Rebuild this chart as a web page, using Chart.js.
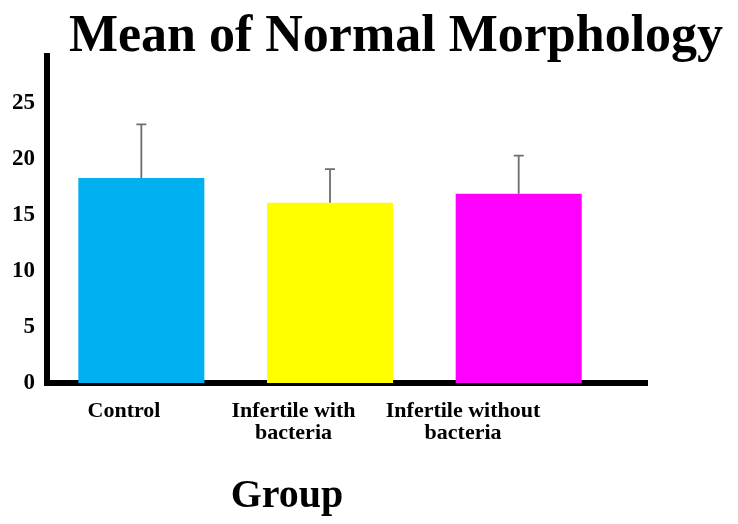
<!DOCTYPE html>
<html>
<head>
<meta charset="utf-8">
<script src="https://cdn.jsdelivr.net/npm/chart.js@4.4.0/dist/chart.umd.min.js"></script>
<style>
  html, body { margin: 0; padding: 0; background: #fff; }
  #wrap { width: 738px; height: 524px; }
</style>
</head>
<body>
<div id="wrap"><canvas id="morphChart" width="738" height="524"></canvas></div>
<script>
// data
const groups = [['Control'], ['Infertile with', 'bacteria'], ['Infertile without', 'bacteria']];
const meanValues = [18.3, 16.1, 16.9];
const sdValues = [4.8, 3.0, 3.4];
const barColors = ['#00B0F0', '#FFFF00', '#FF00FF'];
const yTicks = [0, 5, 10, 15, 20, 25];

const chartTitle = 'Mean of Normal Morphology';
const xTitle = 'Group';
const serif = "'Liberation Serif', 'Times New Roman', serif";

// upper error whiskers + titles
const extrasPlugin = {
  id: 'extras',
  afterDatasetsDraw(chart) {
    const { ctx, scales } = chart;
    const x = scales.x, y = scales.y;
    ctx.save();
    ctx.strokeStyle = '#6e6e6e';
    ctx.lineWidth = 1.8;
    meanValues.forEach((m, i) => {
      const px = x.getPixelForValue(i);
      const top = y.getPixelForValue(m + sdValues[i]);
      const base = y.getPixelForValue(m);
      ctx.beginPath();
      ctx.moveTo(px, base);
      ctx.lineTo(px, top);
      ctx.moveTo(px - 5, top);
      ctx.lineTo(px + 5, top);
      ctx.stroke();
    });
    ctx.restore();
  },
  afterDraw(chart) {
    const { ctx } = chart;
    ctx.save();
    ctx.fillStyle = '#000';
    ctx.textAlign = 'center';
    ctx.textBaseline = 'alphabetic';
    ctx.font = 'bold 52px ' + serif;
    ctx.fillText(chartTitle, 396, 51);
    ctx.font = 'bold 40px ' + serif;
    ctx.fillText(xTitle, 287, 507);
    ctx.restore();
  }
};

new Chart(document.getElementById('morphChart'), {
  type: 'bar',
  data: {
    datasets: [{
      data: meanValues.map((v, i) => ({ x: i, y: v })),
      backgroundColor: barColors,
      borderWidth: 0,
      barPercentage: 0.668,
      categoryPercentage: 1
    }]
  },
  options: {
    responsive: false,
    animation: false,
    layout: { padding: { top: 56, right: 91, left: 0, bottom: 0 } },
    plugins: { legend: { display: false }, tooltip: { enabled: false } },
    scales: {
      x: {
        type: 'linear',
        offset: false,
        min: -0.5,
        max: 2.68,
        weight: 0,
        afterBuildTicks: s => { s.ticks = groups.map((g, i) => ({ value: i })); },
        afterFit: s => { s.height = 0; },
        ticks: { display: false },
        grid: { display: false, drawTicks: false, offset: false },
        border: { display: true, color: '#000', width: 6 }
      },
      xLabels: {
        type: 'linear',
        axis: 'x',
        position: 'bottom',
        offset: false,
        min: -0.454,
        max: 3.085,
        weight: 1,
        afterBuildTicks: s => { s.ticks = groups.map((g, i) => ({ value: i })); },
        afterFit: s => { s.height = 141; },
        ticks: {
          autoSkip: false,
          maxRotation: 0,
          padding: 18,
          color: '#000',
          font: { family: serif, size: 22, weight: 'bold', lineHeight: 0.98 },
          callback: v => groups[v]
        },
        grid: { display: false, drawTicks: false, offset: false },
        border: { display: false }
      },
      y: {
        min: 0,
        max: 29.2,
        afterBuildTicks: s => { s.ticks = yTicks.map(v => ({ value: v })); },
        afterFit: s => { s.width = 47; },
        ticks: {
          padding: 12,
          color: '#000',
          font: { family: serif, size: 23, weight: 'bold' }
        },
        grid: { display: false, drawTicks: false },
        border: { display: true, color: '#000', width: 6 }
      }
    }
  },
  plugins: [extrasPlugin]
});
</script>
</body>
</html>
